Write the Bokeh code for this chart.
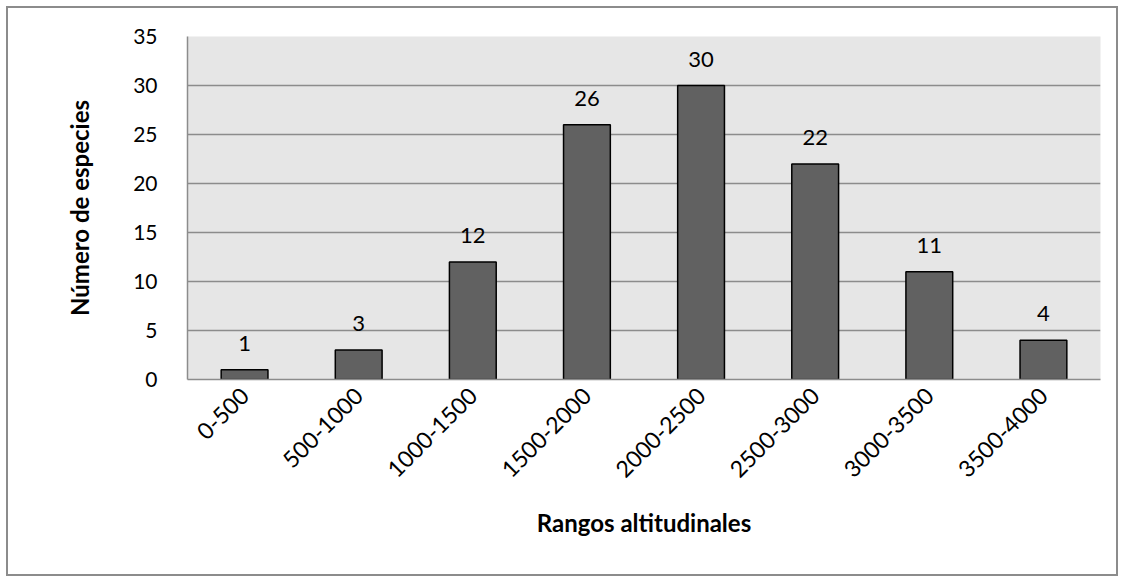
from bokeh.plotting import figure
from bokeh.models import ColumnDataSource, FactorRange, Range1d, FixedTicker, LabelSet
from bokeh.core.properties import value
from bokeh.embed import file_html
from bokeh.resources import INLINE
import math

categories = ["0-500", "500-1000", "1000-1500", "1500-2000", "2000-2500", "2500-3000", "3000-3500", "3500-4000"]
species = [1, 3, 12, 26, 30, 22, 11, 4]
y_ticks = [0, 5, 10, 15, 20, 25, 30, 35]

src = ColumnDataSource(data=dict(cat=categories, val=species, lab=[str(v) for v in species]))

W, H = 1112, 570
p = figure(x_range=FactorRange(*categories, range_padding=0), y_range=Range1d(0, 35),
           width=W, height=H, output_backend="svg", toolbar_location=None,
           min_border_left=179, min_border_right=20, min_border_top=28, min_border_bottom=199)
p.styles = {"border": "2px solid #8c8c8c", "box-sizing": "border-box",
            "margin-left": "6px", "margin-top": "6px"}
p.background_fill_color = "#e6e6e6"
p.border_fill_color = "white"
p.outline_line_color = None

p.vbar(x="cat", top="val", width=0.41, source=src, fill_color="#616161", line_color="black", line_width=1.5)

labels = LabelSet(x="cat", y="val", text="lab", source=src, y_offset=19, text_align="center",
                  text_baseline="bottom", text_font=value("Lato"), text_font_size="22px", text_color="black")
p.add_layout(labels)

p.xgrid.grid_line_color = None
p.ygrid.grid_line_color = "#8c8c8c"
p.ygrid.grid_line_width = 1.5
p.yaxis.ticker = FixedTicker(ticks=y_ticks)

for ax in (p.xaxis[0], p.yaxis[0]):
    ax.axis_line_color = "#8c8c8c"
    ax.axis_line_width = 1.5
    ax.major_tick_line_color = None
    ax.minor_tick_line_color = None
    ax.major_label_text_font = "Lato"
    ax.major_label_text_color = "black"
    ax.axis_label_text_font = "Lato"
    ax.axis_label_text_font_style = "bold"
    ax.axis_label_text_font_size = "24px"
    ax.axis_label_text_color = "black"

p.yaxis.major_label_text_font_size = "21px"
p.xaxis.major_label_text_font_size = "23px"
p.yaxis.major_label_standoff = 24
p.yaxis.axis_label = "Número de especies"
p.yaxis.axis_label_standoff = 36
p.xaxis.major_label_orientation = math.pi / 4
p.xaxis.major_label_standoff = 6
p.xaxis.axis_label = "Rangos altitudinales"
p.xaxis.axis_label_standoff = 20

open("out.html", "w").write(file_html(p, INLINE))
